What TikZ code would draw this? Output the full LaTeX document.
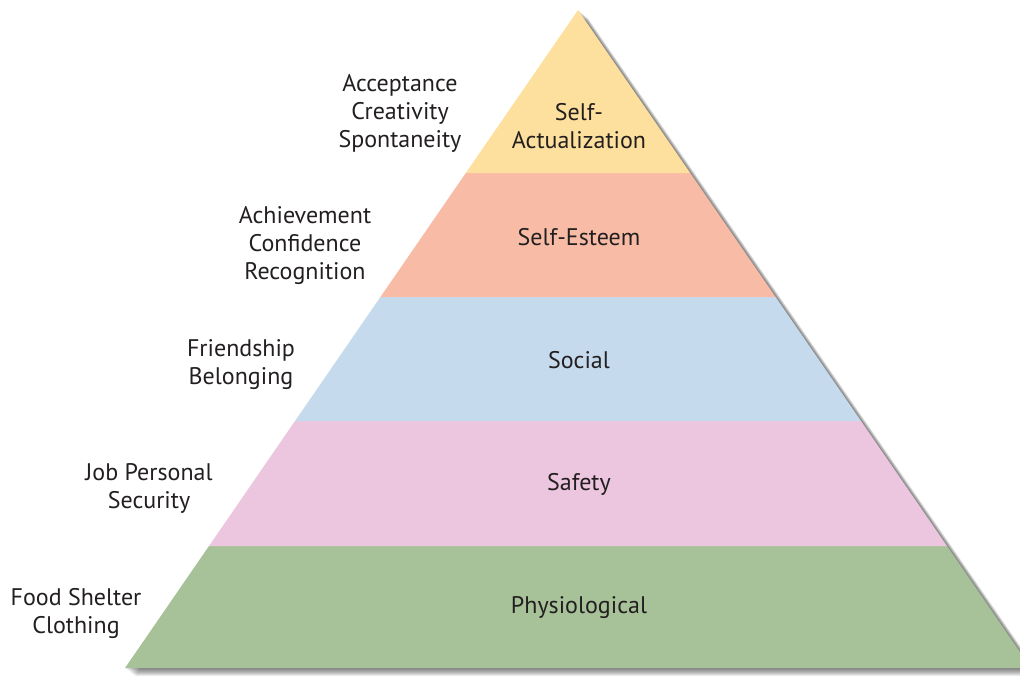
\documentclass[tikz,border=0pt]{standalone}
\usepackage{fontspec}
\setmainfont{PT Sans}
\usetikzlibrary{positioning, calc}

\definecolor{txtgray}{RGB}{35,31,32}
\definecolor{lvlyellow}{RGB}{254,224,158}
\definecolor{lvlsalmon}{RGB}{248,188,166}
\definecolor{lvlblue}{RGB}{198,218,238}
\definecolor{lvlpink}{RGB}{236,198,222}
\definecolor{lvlgreen}{RGB}{167,194,153}

\begin{document}
\begin{tikzpicture}[
    x=0.5pt, y=-0.5pt,
    band/.style={draw=none},
    level/.style={font=\fontsize{12}{14}\selectfont, text=txtgray, align=center},
    need/.style={font=\fontsize{12}{14}\selectfont, text=txtgray, align=center}
]
    \useasboundingbox (0,0) rectangle (1020,676);

    % corners of the pyramid
    \coordinate (apex) at (578,10);
    \coordinate (bl) at (125,668);
    \coordinate (br) at (1031,668);

    % soft shadow
    \foreach \s in {1,...,9}
        \fill[black, opacity=0.07] ([shift={(\s*1.1,\s*0.9)}]apex) -- ([shift={(\s*1.1,\s*0.9)}]br) -- ([shift={(\s*1.1,\s*0.9)}]bl) -- cycle;

    % Levels (bottom to top)
    \fill[band, lvlgreen] (209,546) -- (947,546) -- (br) -- (bl) -- cycle;
    \fill[band, lvlpink] (295,421) -- (861,421) -- (947,546) -- (209,546) -- cycle;
    \fill[band, lvlblue] (380.4,297) -- (775.6,297) -- (861,421) -- (295,421) -- cycle;
    \fill[band, lvlsalmon] (465.8,173) -- (690.2,173) -- (775.6,297) -- (380.4,297) -- cycle;
    \fill[band, lvlyellow] (apex) -- (690.2,173) -- (465.8,173) -- cycle;

    % Level names
    \node[level] (selfact) at (579,126) {Self-\\Actualization};
    \node[level] (esteem) at (579,237) {Self-Esteem};
    \node[level] (social) at (579,360) {Social};
    \node[level] (safety) at (579,484) {Safety};
    \node[level] (physio) at (579,608) {Physiological};

    % Needs at each level
    \node[need] (acc) at (400,113) {Acceptance\\Creativity\\Spontaneity};
    \node[need] (ach) at (305,245) {Achievement\\Confidence\\Recognition};
    \node[need] (fri) at (241,365) {Friendship\\Belonging};
    \node[need] (job) at (149,488) {Job Personal\\Security};
    \node[need] (food) at (76,613) {Food Shelter\\Clothing};
\end{tikzpicture}
\end{document}
